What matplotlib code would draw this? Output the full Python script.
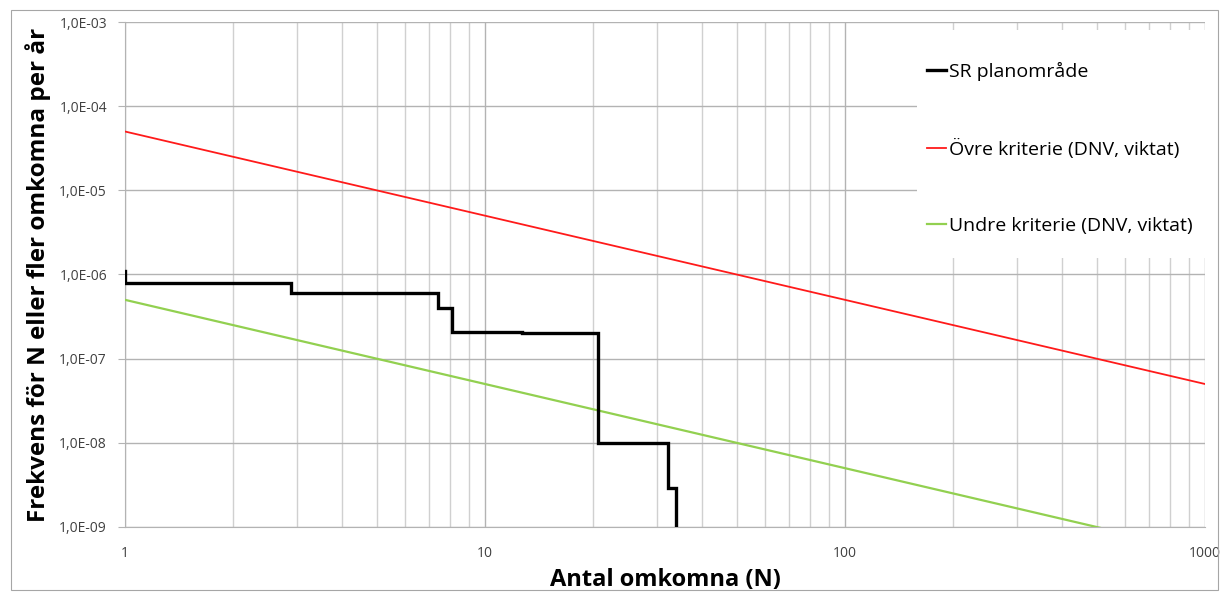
import numpy as np
import matplotlib.pyplot as plt
from matplotlib.patches import Rectangle
from matplotlib.ticker import FixedLocator, FuncFormatter, LogLocator, NullFormatter

plt.rcParams['font.family'] = ['Open Sans', 'DejaVu Sans']

# FN-curve for the plan area (step points: N where frequency drops, frequency after)
sr_start = 1.1e-6
sr_n = [1, 2.9, 7.4, 8.1, 12.7, 20.6, 32.3, 33.9]
sr_f = [8.0e-7, 6.0e-7, 4.0e-7, 2.1e-7, 2.0e-7, 1.0e-8, 2.9e-9, 1.0e-10]

# criteria lines
crit_n = [1, 1000]
upper_f = [5e-5, 5e-8]
lower_f = [5e-7, 5e-10]

labels = ['SR planområde', 'Övre kriterie (DNV, viktat)', 'Undre kriterie (DNV, viktat)']

fig = plt.figure(figsize=(12.23, 5.97), dpi=100)
fig.patches.append(Rectangle((11 / 1223, 7 / 597), 1207 / 1223, 580 / 597, transform=fig.transFigure,
                             fill=False, edgecolor='#a6a6a6', linewidth=0.8))
ax = fig.add_axes([125 / 1223, 70 / 597, 1080 / 1223, 505 / 597])

# build step coordinates
xs = [sr_n[0]]
ys = [sr_start]
prev = sr_start
for n, f in zip(sr_n, sr_f):
    xs += [n, n]
    ys += [prev, f]
    prev = f
ax.plot(xs[1:], ys[1:], color='black', linewidth=2.4, label=labels[0], solid_joinstyle='miter', zorder=4)
ax.plot(crit_n, upper_f, color='#ff1a1a', linewidth=1.3, label=labels[1], zorder=3)
ax.plot(crit_n, lower_f, color='#92d050', linewidth=1.6, label=labels[2], zorder=3)

ax.set_xscale('log')
ax.set_yscale('log')
ax.set_xlim(1, 1000)
ax.set_ylim(1e-9, 1e-3)

ax.xaxis.set_major_locator(FixedLocator([1, 10, 100, 1000]))
ax.xaxis.set_minor_locator(LogLocator(base=10, subs=np.arange(2, 10)))
ax.xaxis.set_major_formatter(FuncFormatter(lambda v, p: '%d' % v))
ax.xaxis.set_minor_formatter(NullFormatter())
ax.yaxis.set_major_locator(FixedLocator([10.0 ** k for k in range(-9, -2)]))
ax.yaxis.set_minor_locator(FixedLocator([]))
ax.yaxis.set_major_formatter(FuncFormatter(lambda v, p: '1,0E-%02d' % round(-np.log10(v))))

ax.grid(which='major', axis='both', color='#b3b3b3', linewidth=1.0)
ax.grid(which='minor', axis='x', color='#d0d0d0', linewidth=1.0)
ax.set_axisbelow(True)
for s in ax.spines.values():
    s.set_visible(False)
ax.spines['left'].set_visible(True)
ax.spines['left'].set_color('#b3b3b3')
ax.spines['bottom'].set_visible(True)
ax.spines['bottom'].set_color('#b3b3b3')

ax.tick_params(axis='y', which='major', length=5, color='#b3b3b3', labelsize=10, labelcolor='#404040', pad=8)
ax.tick_params(axis='x', which='both', length=0, labelsize=10, labelcolor='#404040', pad=14)

ax.set_xlabel('Antal omkomna (N)', fontsize=17, fontweight='bold', labelpad=5)
ax.set_ylabel('Frekvens för N eller fler omkomna per år', fontsize=17.5, fontweight='bold', labelpad=6)

# white legend area hiding the grid
ax.add_patch(Rectangle(((917 - 125) / 1080, (527 - 258) / 505), 1 - (917 - 125) / 1080, 228 / 505,
                       transform=ax.transAxes, facecolor='white', edgecolor='none', zorder=2))
leg = ax.legend(loc='upper left', bbox_to_anchor=(0.735, 0.936), fontsize=14, frameon=False,
                handlelength=1.0, handletextpad=0.15, labelspacing=2.97, borderpad=0.4,
                borderaxespad=0)

fig.savefig('out.png', dpi=100)
